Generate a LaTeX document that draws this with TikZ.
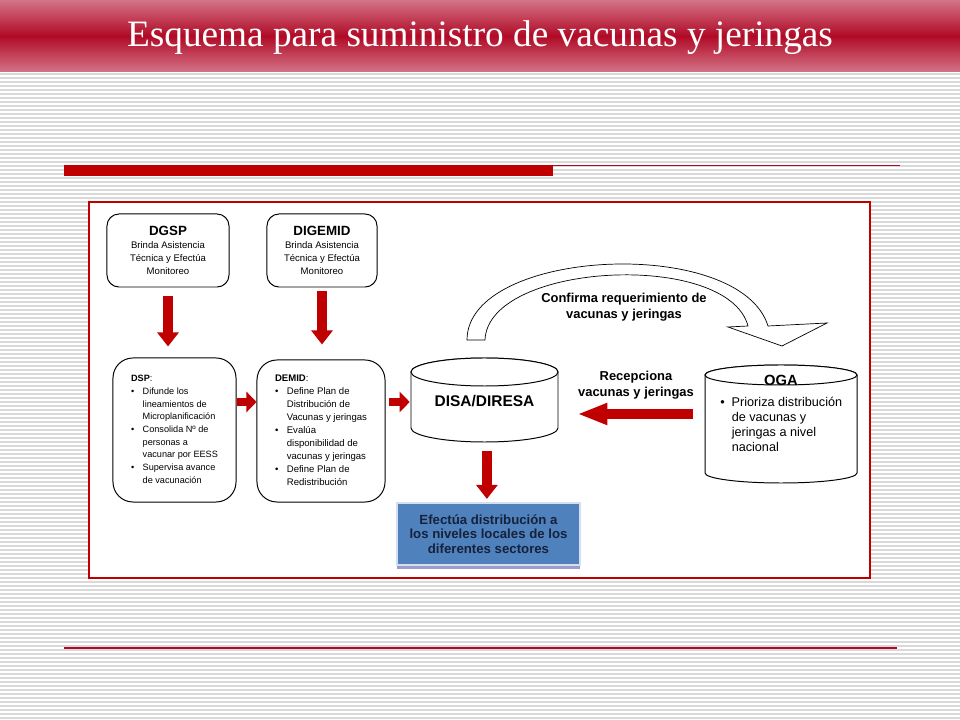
\documentclass[tikz,border=0pt]{standalone}
\usepackage{fontspec}
\setmainfont{Liberation Sans}
\newfontfamily\titlefont{Liberation Serif}
\usetikzlibrary{arrows.meta,shadows}
\definecolor{barpink}{HTML}{D47487}
\definecolor{bardark}{HTML}{B00A26}
\definecolor{framered}{HTML}{C00000}
\definecolor{arrowred}{HTML}{C00000}
\definecolor{boxblue}{HTML}{4F81BD}
\definecolor{navy}{HTML}{16213C}
\definecolor{stripegray}{HTML}{D9D9D9}

\begin{document}
\begin{tikzpicture}[x=0.025cm,y=-0.025cm,
  stripe/.style={stripegray,line width=0.04cm},
  box/.style={rectangle,draw,line width=0.7pt,rounded corners=0.3cm,align=center,inner sep=0pt},
  listbox/.style={rectangle,draw,line width=0.7pt,rounded corners=0.5cm,inner sep=0pt},
  drum/.style={draw,fill=white,line width=0.7pt},
  redarrow/.style={arrowred,line width=0.26cm,-{Triangle[width=0.52cm,length=0.35cm]}},
  smallarrow/.style={arrowred,line width=0.2cm,-{Triangle[width=0.5cm,length=0.25cm]}},
  longarrow/.style={arrowred,line width=0.25cm,-{Triangle[width=0.5cm,length=0.75cm]}},
  boldlabel/.style={font=\bfseries\fontsize{9.2}{11.4}\selectfont,align=center}]
\useasboundingbox (0,0) rectangle (960,720);
\fill[white] (0,0) rectangle (960,720);
\foreach \y in {74,78,...,718}
  \draw[stripe] (0,\y) -- (960,\y);
\shade[top color=barpink,bottom color=barpink,middle color=bardark] (0,0) rectangle (960,72);
\node[text=white,font=\titlefont\fontsize{26.5}{30}\selectfont] (title) at (480,38) {Esquema para suministro de vacunas y jeringas};
\fill[arrowred] (64,165) rectangle (553,176);
\draw[bardark,line width=0.8pt] (553,165.5) -- (900,165.5);
\draw[bardark,line width=1.2pt] (64,648) -- (897,648);
\draw[framered,fill=white,line width=0.8pt] (89,202) rectangle (870,578);

\node[box,minimum width=3.05cm,minimum height=1.825cm,font=\fontsize{6.8}{9.2}\selectfont] (dgsp) at (168,250.5)
  {{\fontsize{9.5}{9.2}\selectfont\textbf{DGSP}}\\Brinda Asistencia\\Técnica y Efectúa\\Monitoreo};
\node[box,minimum width=2.75cm,minimum height=1.825cm,font=\fontsize{6.8}{9.2}\selectfont] (digemid) at (322,250.5)
  {{\fontsize{9.5}{9.2}\selectfont\textbf{DIGEMID}}\\Brinda Asistencia\\Técnica y Efectúa\\Monitoreo};

\node[listbox,minimum width=3.075cm,minimum height=3.6cm,font=\fontsize{6.5}{9}\selectfont] (dsp) at (174.5,430)
  {\begin{tabular}{@{}l@{\hspace{6pt}}l@{}}
   \multicolumn{2}{@{}l@{}}{\textbf{DSP}:}\\
   \textbullet & Difunde los\\
               & lineamientos de\\
               & Microplanificación\\
   \textbullet & Consolida Nº de\\
               & personas a\\
               & vacunar por EESS\\
   \textbullet & Supervisa avance\\
               & de vacunación
   \end{tabular}};
\node[listbox,minimum width=3.2cm,minimum height=3.55cm,font=\fontsize{6.8}{9.2}\selectfont] (demid) at (321,431)
  {\begin{tabular}{@{}l@{\hspace{6pt}}l@{}}
   \multicolumn{2}{@{}l@{}}{\textbf{DEMID}:}\\
   \textbullet & Define Plan de\\
               & Distribución de\\
               & Vacunas y jeringas\\
   \textbullet & Evalúa\\
               & disponibilidad de\\
               & vacunas y jeringas\\
   \textbullet & Define Plan de\\
               & Redistribución
   \end{tabular}};

\filldraw[drum] (411,372) -- (411,428) arc[start angle=180,end angle=0,x radius=73.5,y radius=14]
  -- (558,372) arc[start angle=0,end angle=-180,x radius=73.5,y radius=14] -- cycle;
\draw[drum] (484.5,372) ellipse[x radius=73.5,y radius=14];
\node[minimum width=3.675cm,minimum height=2.1cm,inner sep=0pt,font=\bfseries\fontsize{11}{13}\selectfont] (disa) at (484.5,401) {DISA/DIRESA};

\filldraw[drum] (705,375) -- (705,473) arc[start angle=180,end angle=0,x radius=76,y radius=10]
  -- (857,375) arc[start angle=0,end angle=-180,x radius=76,y radius=10] -- cycle;
\draw[drum] (781,375) ellipse[x radius=76,y radius=10];
\node[minimum width=3.8cm,minimum height=2.95cm,inner sep=0pt] (oga) at (781,424) {};
\node[font=\bfseries\fontsize{10.5}{12}\selectfont] (ogatitle) at (781,380) {OGA};
\node[anchor=west,inner sep=0pt,font=\fontsize{9}{10.7}\selectfont] (ogatext) at (720,426)
  {\begin{tabular}{@{}l@{\hspace{5pt}}l@{}}
   \textbullet & Prioriza distribución\\
               & de vacunas y\\
               & jeringas a nivel\\
               & nacional
   \end{tabular}};

\node[rectangle,fill=boxblue,draw=boxblue!25!white,line width=1.5pt,minimum width=4.575cm,minimum height=1.55cm,
  text=navy,align=center,font=\bfseries\fontsize{9.4}{10.3}\selectfont,
  drop shadow={shadow xshift=0cm,shadow yshift=-0.1cm,fill=gray!70!blue!60!white,opacity=1}] (efectua) at (488.5,534)
  {Efectúa distribución a\\los niveles locales de los\\diferentes sectores};

\filldraw[fill=white,draw=black,line width=0.5pt] (467,340) .. controls (467,248) and (740,235) .. (768,326)
  -- (827,323) -- (782,346) -- (728,327) -- (748,326) .. controls (728,250) and (488,262) .. (485,340) -- cycle;
\node[boldlabel] (confirma) at (624,307) {Confirma requerimiento de\\vacunas y jeringas};
\node[boldlabel] (recepciona) at (636,385) {Recepciona\\vacunas y jeringas};

\draw[redarrow,shorten <=0.2cm,shorten >=0.275cm] (dgsp.south) -- (dgsp.south |- dsp.north);
\draw[redarrow,shorten <=0.1cm,shorten >=0.375cm] (digemid.south) -- (digemid.south |- demid.north);
\draw[smallarrow] ([yshift=0.7cm]dsp.east) -- ([yshift=0.7cm]dsp.east -| demid.west);
\draw[smallarrow,shorten <=0.075cm,shorten >=0.025cm] ([yshift=0.725cm]demid.east) -- ([yshift=0.725cm]demid.east -| disa.west);
\draw[longarrow,shorten <=0.3cm,shorten >=0.475cm] ([yshift=0.25cm]oga.west) -- ([yshift=0.25cm]oga.west -| disa.east);
\draw[redarrow,shorten <=0.2cm,shorten >=0.075cm] ([xshift=0.06cm]disa.south) -- ([xshift=0.06cm]disa.south |- efectua.north);
\end{tikzpicture}
\end{document}
